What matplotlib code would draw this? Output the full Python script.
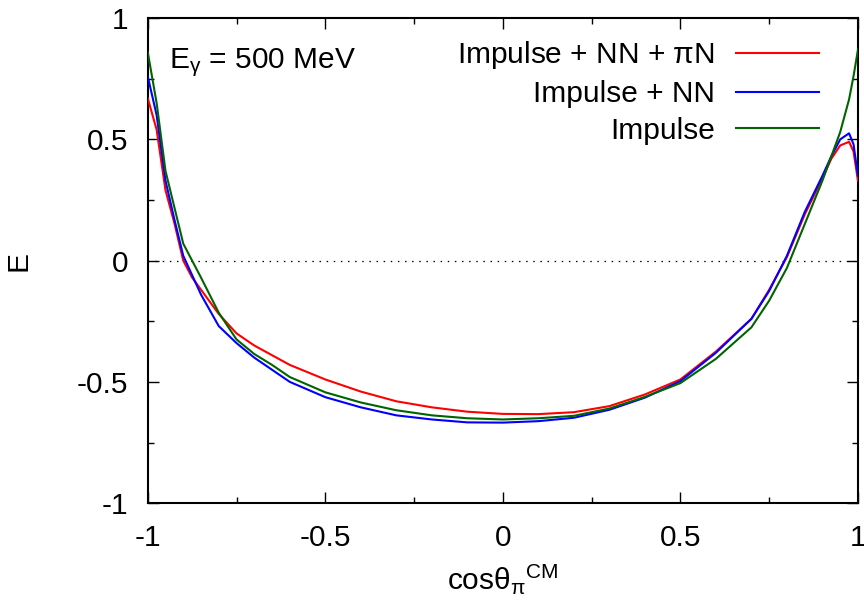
import numpy as np
import matplotlib
matplotlib.use('Agg')
import matplotlib.pyplot as plt
from matplotlib.ticker import MultipleLocator

plt.rcParams['font.family'] = ['Liberation Sans', 'DejaVu Sans']
plt.rcParams['mathtext.fontset'] = 'custom'
plt.rcParams['mathtext.rm'] = 'Liberation Sans'
plt.rcParams['mathtext.it'] = 'Liberation Sans'
plt.rcParams['mathtext.bf'] = 'Liberation Sans:bold'

# cos(theta_pi) grid
cos_theta = [-1.0, -0.975, -0.95, -0.925, -0.9, -0.875, -0.85, -0.8, -0.75, -0.7,
             -0.65, -0.6, -0.5, -0.4, -0.3, -0.2, -0.1, 0.0, 0.1, 0.2,
             0.3, 0.4, 0.5, 0.6, 0.7, 0.75, 0.8, 0.85, 0.9, 0.925,
             0.95, 0.975, 0.9875, 1.0]

e_full = [0.67, 0.54, 0.29, 0.155, 0.0, -0.07, -0.12, -0.22, -0.30, -0.35,
          -0.39, -0.43, -0.49, -0.54, -0.58, -0.605, -0.623, -0.632, -0.633, -0.625,
          -0.60, -0.552, -0.49, -0.375, -0.24, -0.12, 0.015, 0.19, 0.34, 0.42,
          0.475, 0.49, 0.45, 0.33]

e_nn = [0.76, 0.60, 0.33, 0.17, 0.02, -0.06, -0.14, -0.27, -0.34, -0.40,
        -0.45, -0.50, -0.563, -0.605, -0.638, -0.655, -0.667, -0.668, -0.662, -0.648,
        -0.615, -0.565, -0.497, -0.38, -0.24, -0.125, 0.02, 0.20, 0.35, 0.43,
        0.50, 0.525, 0.48, 0.35]

e_imp = [0.86, 0.65, 0.37, 0.22, 0.07, 0.0, -0.07, -0.215, -0.325, -0.385,
         -0.43, -0.48, -0.543, -0.585, -0.617, -0.638, -0.65, -0.655, -0.65, -0.64,
         -0.61, -0.562, -0.505, -0.405, -0.275, -0.165, -0.03, 0.15, 0.33, 0.43,
         0.53, 0.665, 0.76, 0.87]

labels = ['Impulse + NN + $\\pi$N', 'Impulse + NN', 'Impulse']
colors = ['#ff0000', '#0000ff', '#006400']
tick_vals = [-1, -0.5, 0, 0.5, 1]
tick_text = ['-1', '-0.5', '0', '0.5', '1']

fig = plt.figure(figsize=(8.64, 6.04), dpi=100)
ax = fig.add_axes([0.171, 0.167, 0.822, 0.803])

ax.axhline(0, color='black', lw=0.9, linestyle=(0, (1.2, 4.5)), zorder=1)
for y, lab, c in zip([e_full, e_nn, e_imp], labels, colors):
    ax.plot(cos_theta, y, color=c, lw=1.5, label=lab, zorder=3)

ax.set_xlim(-1, 1)
ax.set_ylim(-1, 1)
ax.set_xticks(tick_vals)
ax.set_xticklabels(tick_text)
ax.set_yticks(tick_vals)
ax.set_yticklabels(tick_text)
ax.xaxis.set_minor_locator(MultipleLocator(0.25))
ax.yaxis.set_minor_locator(MultipleLocator(0.25))
ax.tick_params(which='both', direction='in', top=True, right=True, labelsize=21.5, width=1)
ax.tick_params(which='major', length=8)
ax.tick_params(which='minor', length=4)
ax.tick_params(axis='x', pad=15)
ax.tick_params(axis='y', pad=14)
for s in ax.spines.values():
    s.set_linewidth(1.5)

ax.set_xlabel('cos$\\theta_{\\pi}{}^{\\mathrm{CM}}$', fontsize=21.5, labelpad=7)
ax.set_ylabel('E', fontsize=21.5, labelpad=32)

ax.text(0.03, 0.909, 'E$_{\\gamma}$ = 500 MeV', transform=ax.transAxes,
        fontsize=21.5, va='center', ha='left')

ax.legend(loc='upper right', frameon=False, fontsize=21.5, markerfirst=False,
          handlelength=2.8, handletextpad=0.7, labelspacing=0.3,
          borderaxespad=0.3, bbox_to_anchor=(0.975, 1.0))

fig.savefig('out.png', dpi=100)
